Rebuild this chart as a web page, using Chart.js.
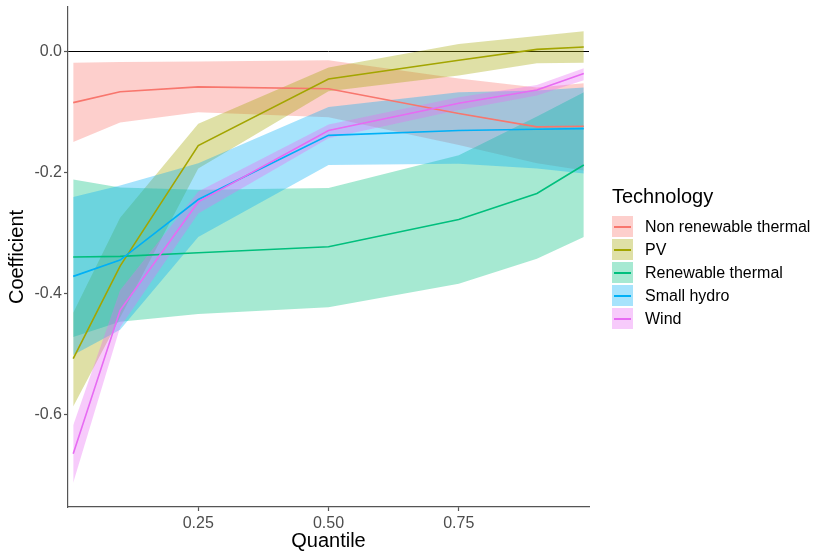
<!DOCTYPE html>
<html>
<head>
<meta charset="utf-8">
<script src="https://cdn.jsdelivr.net/npm/chart.js@4/dist/chart.umd.min.js"></script>
<style>
    body { margin: 0; background: #fff; font-family: "Liberation Sans", Arial, sans-serif; }
    #wrap { position: relative; width: 814px; height: 555px; }
    #legend { position: absolute; left: 612px; top: 184px; }
    #legend .title { font-size: 20px; line-height: 24px; color: #000; margin-bottom: 7px; }
    #legend .item { display: flex; align-items: center; height: 23px; }
    #legend .key { position: relative; width: 21px; height: 21px; margin-right: 12px; }
    #legend .key span { position: absolute; left: 2px; right: 2px; top: 10px; height: 1.6px; }
    #legend .label { font-size: 16px; color: #000; }
</style>
</head>
<body>
<div id="wrap">
    <canvas id="quantChart" width="814" height="555"></canvas>
    <div id="legend"></div>
</div>
<script>
// Quantile-Regression Koeffizienten je Technologie
const quantiles = [0.01, 0.1, 0.25, 0.5, 0.75, 0.9, 0.99];
const technologies = ["Non renewable thermal", "PV", "Renewable thermal", "Small hydro", "Wind"];

const coefNonRenew  = [-0.085, -0.067, -0.059, -0.062, -0.103, -0.125, -0.124];
const upperNonRenew = [-0.019, -0.018, -0.017, -0.015, -0.045, -0.060, -0.053];
const lowerNonRenew = [-0.150, -0.118, -0.101, -0.109, -0.155, -0.185, -0.197];

const coefPV  = [-0.508, -0.355, -0.156, -0.046, -0.015, 0.003, 0.007];
const upperPV = [-0.432, -0.275, -0.120, -0.027, 0.012, 0.025, 0.033];
const lowerPV = [-0.587, -0.440, -0.194, -0.066, -0.040, -0.020, -0.019];

const coefRenew  = [-0.340, -0.339, -0.333, -0.323, -0.278, -0.235, -0.188];
const upperRenew = [-0.212, -0.225, -0.229, -0.226, -0.172, -0.108, -0.068];
const lowerRenew = [-0.472, -0.447, -0.434, -0.423, -0.384, -0.343, -0.307];

const coefHydro  = [-0.372, -0.345, -0.245, -0.139, -0.131, -0.129, -0.128];
const upperHydro = [-0.241, -0.222, -0.185, -0.092, -0.068, -0.065, -0.060];
const lowerHydro = [-0.502, -0.460, -0.307, -0.188, -0.186, -0.194, -0.202];

const coefWind  = [-0.665, -0.428, -0.249, -0.131, -0.086, -0.064, -0.037];
const upperWind = [-0.618, -0.395, -0.232, -0.121, -0.076, -0.056, -0.028];
const lowerWind = [-0.713, -0.456, -0.268, -0.144, -0.097, -0.073, -0.048];

const xTicks = [0.25, 0.5, 0.75];
const yTicks = [-0.6, -0.4, -0.2, 0.0];

const coefs  = [coefNonRenew, coefPV, coefRenew, coefHydro, coefWind];
const uppers = [upperNonRenew, upperPV, upperRenew, upperHydro, upperWind];
const lowers = [lowerNonRenew, lowerPV, lowerRenew, lowerHydro, lowerWind];

// ggplot Standardfarben
const colors = ["#F8766D", "#A3A500", "#00BF7D", "#00B0F6", "#E76BF3"];

function hexAlpha(hex, a) {
    const n = parseInt(hex.slice(1), 16);
    return `rgba(${(n >> 16) & 255}, ${(n >> 8) & 255}, ${n & 255}, ${a})`;
}

function toPoints(values) {
    return quantiles.map((q, i) => ({ x: q, y: values[i] }));
}

// Reihenfolge: spätere Indizes werden zuerst gezeichnet
const lineSets = [];
const bandSets = [];
for (let t = technologies.length - 1; t >= 0; t--) {
    lineSets.push({
        label: technologies[t],
        data: toPoints(coefs[t]),
        borderColor: colors[t],
        borderWidth: 1.6,
        pointRadius: 0,
        fill: false,
        tension: 0
    });
}
for (let t = technologies.length - 1; t >= 0; t--) {
    bandSets.push({
        label: technologies[t] + " upper",
        data: toPoints(uppers[t]),
        borderWidth: 0,
        pointRadius: 0,
        backgroundColor: hexAlpha(colors[t], 0.35),
        fill: "+1"
    });
    bandSets.push({
        label: technologies[t] + " lower",
        data: toPoints(lowers[t]),
        borderWidth: 0,
        pointRadius: 0,
        fill: false
    });
}

const axisColor = "#555";
const tickFont = { family: "'Liberation Sans', Arial, sans-serif", size: 16 };
const titleFont = { family: "'Liberation Sans', Arial, sans-serif", size: 20 };

new Chart(document.getElementById("quantChart"), {
    type: "line",
    data: { datasets: lineSets.concat(bandSets) },
    options: {
        responsive: false,
        animation: false,
        layout: { padding: { left: 0, right: 225, top: 7, bottom: 0 } },
        plugins: {
            legend: { display: false },
            tooltip: { enabled: false },
            filler: { drawTime: "beforeDatasetsDraw" }
        },
        scales: {
            x: {
                type: "linear",
                min: 0,
                max: 1,
                afterBuildTicks: scale => { scale.ticks = xTicks.map(v => ({ value: v })); },
                afterFit: scale => { scale.height = 48; },
                ticks: { color: "#4D4D4D", font: tickFont, padding: 3, maxRotation: 0, callback: v => v.toFixed(2) },
                grid: { drawOnChartArea: false, tickLength: 4, tickColor: axisColor, tickWidth: 1.2 },
                border: { display: true, color: axisColor, width: 1.2 },
                title: { display: true, text: "Quantile", color: "#000", font: titleFont, padding: { top: 0, bottom: 2 } }
            },
            y: {
                min: -0.753,
                max: 0.073,
                afterBuildTicks: scale => { scale.ticks = yTicks.map(v => ({ value: v })); },
                afterFit: scale => {
                    scale.width = 68;
                    scale.paddingTop = 0;
                    scale.paddingBottom = 0;
                },
                ticks: { color: "#4D4D4D", font: tickFont, padding: 2, callback: v => v.toFixed(1) },
                grid: {
                    color: c => (c.tick && c.tick.value === 0 ? "#000" : "rgba(0,0,0,0)"),
                    lineWidth: 1,
                    tickLength: 4,
                    tickColor: axisColor,
                    tickWidth: 1.2
                },
                border: { display: true, color: axisColor, width: 1.2 },
                title: { display: true, text: "Coefficient", color: "#000", font: titleFont, padding: { top: 5, bottom: 0 } }
            }
        }
    }
});

// Legende
const legend = document.getElementById("legend");
legend.innerHTML = `<div class="title">Technology</div>`;
technologies.forEach((name, i) => {
    const item = document.createElement("div");
    item.className = "item";
    item.innerHTML = `
        <div class="key" style="background:${hexAlpha(colors[i], 0.35)}"><span style="background:${colors[i]}"></span></div>
        <div class="label">${name}</div>
    `;
    legend.appendChild(item);
});
</script>
</body>
</html>
